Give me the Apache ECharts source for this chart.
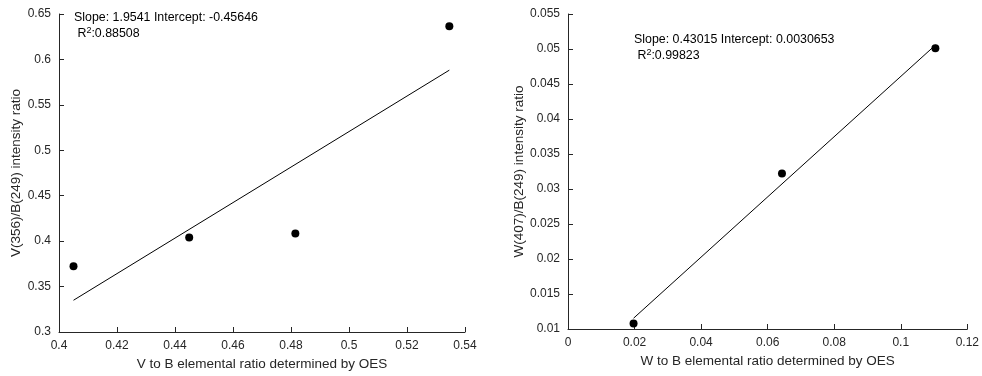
<!DOCTYPE html>
<html><head><meta charset="utf-8">
<script src="https://cdn.jsdelivr.net/npm/echarts@6/dist/echarts.min.js"></script>
<style>html,body{margin:0;padding:0;background:#fff}#c{width:982px;height:376px}</style>
</head><body><div id="c"></div>
<script>
// Left panel: V to B
const vX = [0.405, 0.4449, 0.4815, 0.5346];
const vY = [0.3725, 0.4039, 0.4083, 0.6365];
const vSlope = 1.9541, vIntercept = -0.45646, vR2 = '0.88508';
// Right panel: W to B
const wX = [0.0197, 0.0643, 0.1104];
const wY = [0.0108, 0.0322, 0.0501];
const wSlope = 0.43015, wIntercept = 0.0030653, wR2 = '0.99823';

const FONT = 'Liberation Sans, Arial, sans-serif';
const AX = '#262626';
function fitLine(xs, m, b){
  const lo = Math.min(...xs), hi = Math.max(...xs);
  return [[lo, m*lo+b],[hi, m*hi+b]];
}
function axisCommon(){
  return {
    axisLine:{show:true,onZero:false,lineStyle:{color:AX,width:1}},
    axisTick:{show:true,inside:true,length:5,lineStyle:{color:AX}},
    axisLabel:{color:AX,fontSize:12,fontFamily:FONT},
    splitLine:{show:false},
    nameTextStyle:{color:AX,fontSize:13.5,fontFamily:FONT},
    nameLocation:'middle'
  };
}
const chart = echarts.init(document.getElementById('c'));
const rich = {a:{fontSize:12.4,fontFamily:FONT,color:'#000',lineHeight:16},s:{fontSize:9,fontFamily:FONT,color:'#000',verticalAlign:'top',lineHeight:16,padding:[0,0,6,0]}};
chart.setOption({
  animation:false,
  grid:[
    {left:59,right:517,top:14,bottom:43},
    {left:568,right:12,top:14,bottom:47}
  ],
  xAxis:[
    Object.assign(axisCommon(),{gridIndex:0,type:'value',min:0.4,max:0.54,interval:0.02,name:'V to B elemental ratio determined by OES',nameGap:25}),
    Object.assign(axisCommon(),{gridIndex:1,type:'value',min:0,max:0.12,interval:0.02,name:'W to B elemental ratio determined by OES',nameGap:24})
  ],
  yAxis:[
    Object.assign(axisCommon(),{gridIndex:0,type:'value',min:0.3,max:0.65,interval:0.05,name:'V(356)/B(249) intensity ratio',nameGap:34}),
    Object.assign(axisCommon(),{gridIndex:1,type:'value',min:0.01,max:0.055,interval:0.005,name:'W(407)/B(249) intensity ratio',nameGap:39})
  ],
  series:[
    {type:'scatter',xAxisIndex:0,yAxisIndex:0,data:vX.map((x,i)=>[x,vY[i]]),symbolSize:8,itemStyle:{color:'#000',opacity:1},z:3},
    {type:'line',xAxisIndex:0,yAxisIndex:0,data:fitLine(vX,vSlope,vIntercept),showSymbol:false,lineStyle:{color:'#000',width:1}},
    {type:'scatter',xAxisIndex:1,yAxisIndex:1,data:wX.map((x,i)=>[x,wY[i]]),symbolSize:8,itemStyle:{color:'#000',opacity:1},z:3},
    {type:'line',xAxisIndex:1,yAxisIndex:1,data:fitLine(wX,wSlope,wIntercept),showSymbol:false,lineStyle:{color:'#000',width:1}}
  ],
  graphic:[
    {type:'text',left:74,top:12,style:{text:'{a|Slope: '+vSlope+' Intercept: '+vIntercept+'}\n{a| R}{s|2}{a|:'+vR2+'}',rich:rich}},
    {type:'text',left:634,top:34,style:{text:'{a|Slope: '+wSlope+' Intercept: '+wIntercept+'}\n{a| R}{s|2}{a|:'+wR2+'}',rich:rich}}
  ]
});
</script></body></html>
